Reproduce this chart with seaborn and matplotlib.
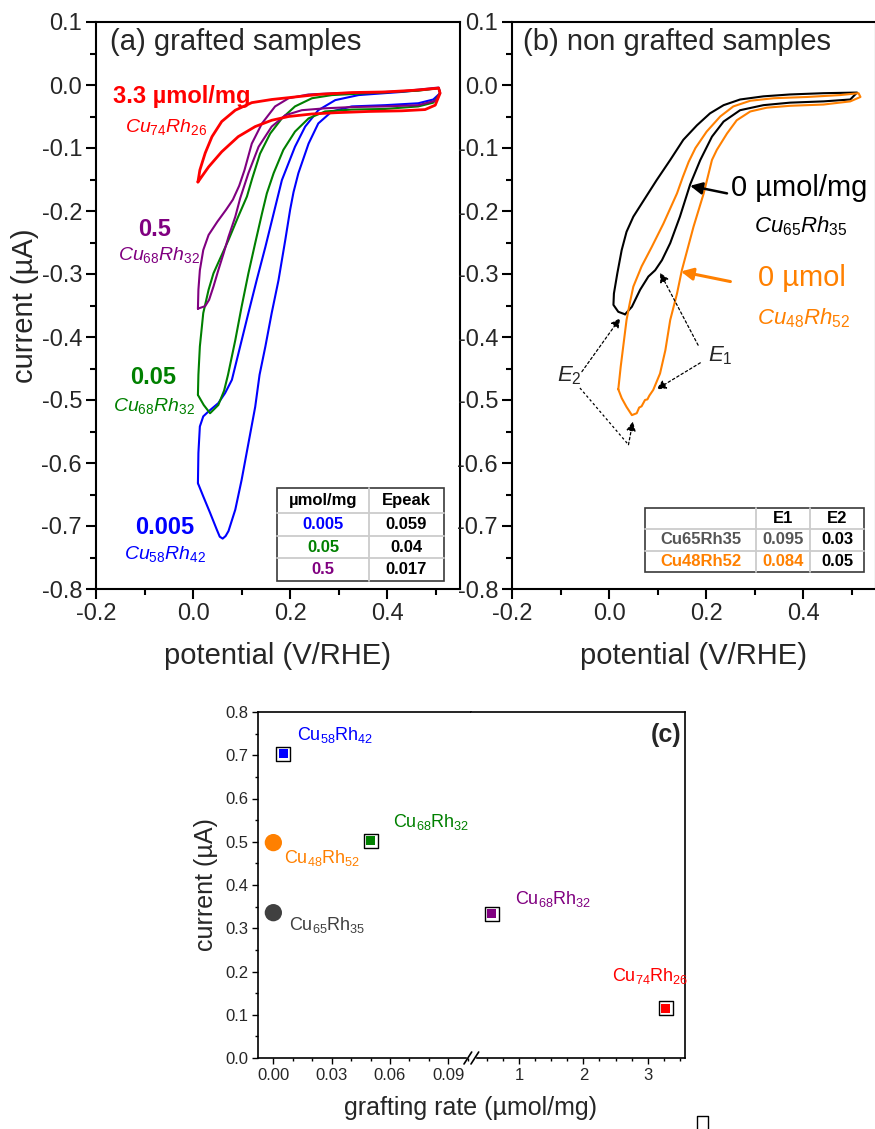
import matplotlib
matplotlib.use("Agg")
import matplotlib.pyplot as plt
import seaborn as sns
from matplotlib.ticker import MultipleLocator, FixedLocator, FormatStrFormatter
from matplotlib.lines import Line2D
from matplotlib.patches import Rectangle

# ---------------- data ----------------
# (a) grafted samples, cyclic voltammograms (closed loops)
a_red_x = [0.010, 0.014, 0.025, 0.039, 0.059, 0.087, 0.121, 0.162, 0.210, 0.258, 0.327, 0.396, 0.464, 0.506,
           0.509, 0.499, 0.478, 0.430, 0.362, 0.293, 0.245, 0.197, 0.162, 0.128, 0.093, 0.059, 0.032, 0.010]
a_red_y = [-0.154, -0.135, -0.108, -0.082, -0.058, -0.040, -0.028, -0.023, -0.019, -0.015, -0.012, -0.011, -0.008, -0.005,
           -0.013, -0.032, -0.039, -0.041, -0.042, -0.044, -0.046, -0.050, -0.056, -0.066, -0.082, -0.106, -0.130, -0.154]

a_purple_x = [0.010, 0.011, 0.014, 0.021, 0.032, 0.050, 0.068, 0.082, 0.095, 0.106, 0.121, 0.142, 0.169, 0.197,
              0.238, 0.293, 0.362, 0.430, 0.506, 0.509, 0.499, 0.464, 0.396, 0.327, 0.272, 0.224, 0.190, 0.162,
              0.135, 0.114, 0.097, 0.087, 0.073, 0.063, 0.052, 0.042, 0.033, 0.025, 0.010]
a_purple_y = [-0.355, -0.325, -0.294, -0.262, -0.238, -0.217, -0.198, -0.182, -0.160, -0.135, -0.093, -0.061, -0.034, -0.021,
              -0.015, -0.013, -0.012, -0.010, -0.004, -0.013, -0.025, -0.032, -0.034, -0.035, -0.037, -0.040, -0.048, -0.066,
              -0.098, -0.140, -0.180, -0.209, -0.241, -0.267, -0.294, -0.320, -0.341, -0.351, -0.355]

a_green_x = [0.010, 0.011, 0.014, 0.021, 0.032, 0.042, 0.056, 0.073, 0.093, 0.111, 0.122, 0.138, 0.159, 0.183,
             0.210, 0.245, 0.286, 0.362, 0.464, 0.506, 0.509, 0.495, 0.464, 0.396, 0.327, 0.272, 0.238, 0.210,
             0.186, 0.166, 0.152, 0.142, 0.128, 0.114, 0.100, 0.087, 0.072, 0.064, 0.052, 0.035, 0.022, 0.010]
a_green_y = [-0.492, -0.460, -0.415, -0.362, -0.325, -0.299, -0.275, -0.246, -0.209, -0.177, -0.148, -0.109, -0.077, -0.053,
             -0.034, -0.021, -0.016, -0.013, -0.009, -0.005, -0.013, -0.028, -0.034, -0.038, -0.039, -0.042, -0.053, -0.074,
             -0.103, -0.140, -0.172, -0.204, -0.251, -0.299, -0.352, -0.405, -0.460, -0.485, -0.508, -0.521, -0.508, -0.492]

a_blue_x = [0.010, 0.011, 0.014, 0.021, 0.032, 0.052, 0.066, 0.080, 0.097, 0.114, 0.131, 0.149, 0.166, 0.183,
            0.210, 0.231, 0.258, 0.293, 0.341, 0.430, 0.506, 0.509, 0.495, 0.464, 0.396, 0.327, 0.286, 0.258,
            0.238, 0.217, 0.207, 0.200, 0.190, 0.176, 0.162, 0.149, 0.137, 0.128, 0.114, 0.100, 0.087, 0.073,
            0.067, 0.061, 0.055, 0.049, 0.035, 0.021, 0.010]
a_blue_y = [-0.632, -0.584, -0.542, -0.526, -0.518, -0.505, -0.489, -0.468, -0.415, -0.362, -0.310, -0.257, -0.204, -0.151,
            -0.098, -0.066, -0.040, -0.024, -0.016, -0.011, -0.005, -0.013, -0.023, -0.029, -0.032, -0.034, -0.042, -0.061,
            -0.093, -0.140, -0.170, -0.198, -0.246, -0.310, -0.362, -0.415, -0.460, -0.511, -0.569, -0.627, -0.674, -0.708,
            -0.716, -0.720, -0.717, -0.706, -0.679, -0.653, -0.632]

# (b) non grafted samples
b_black_x = [0.033, 0.019, 0.009, 0.010, 0.017, 0.026, 0.036, 0.050, 0.074, 0.098, 0.126, 0.153, 0.181, 0.208,
             0.236, 0.270, 0.318, 0.373, 0.442, 0.511, 0.497, 0.442, 0.373, 0.318, 0.270, 0.236, 0.212, 0.188,
             0.167, 0.146, 0.126, 0.109, 0.095, 0.081, 0.064, 0.047, 0.033]
b_black_y = [-0.364, -0.360, -0.349, -0.331, -0.299, -0.262, -0.233, -0.209, -0.180, -0.151, -0.119, -0.087, -0.064, -0.045,
             -0.032, -0.023, -0.018, -0.015, -0.013, -0.012, -0.023, -0.026, -0.028, -0.032, -0.040, -0.058, -0.082, -0.119,
             -0.158, -0.209, -0.251, -0.278, -0.294, -0.304, -0.325, -0.352, -0.364]

b_orange_x = [0.019, 0.024, 0.030, 0.036, 0.043, 0.050, 0.067, 0.088, 0.112, 0.140, 0.152, 0.164, 0.178, 0.201,
              0.229, 0.256, 0.291, 0.339, 0.408, 0.476, 0.514, 0.518, 0.497, 0.442, 0.373, 0.325, 0.291, 0.263,
              0.243, 0.222, 0.212, 0.195, 0.174, 0.150, 0.140, 0.126, 0.116, 0.105, 0.091, 0.083, 0.079, 0.074,
              0.067, 0.062, 0.057, 0.047, 0.036, 0.026, 0.019]
b_orange_y = [-0.483, -0.447, -0.410, -0.373, -0.345, -0.320, -0.288, -0.257, -0.220, -0.172, -0.146, -0.122, -0.100, -0.074,
              -0.050, -0.034, -0.025, -0.021, -0.019, -0.016, -0.013, -0.019, -0.026, -0.031, -0.033, -0.036, -0.042, -0.056,
              -0.077, -0.103, -0.119, -0.172, -0.225, -0.294, -0.331, -0.373, -0.421, -0.458, -0.484, -0.493, -0.499, -0.500,
              -0.510, -0.512, -0.521, -0.524, -0.511, -0.497, -0.483]

# (c) peak current vs grafting rate
sq_names = ["Cu$_{58}$Rh$_{42}$", "Cu$_{68}$Rh$_{32}$", "Cu$_{68}$Rh$_{32}$", "Cu$_{74}$Rh$_{26}$"]
sq_rate = [0.005, 0.05, 0.575, 3.28]
sq_current = [0.704, 0.502, 0.334, 0.115]
sq_colors = ["#0000ff", "#008000", "#800080", "#ff0000"]
ci_names = ["Cu$_{48}$Rh$_{52}$", "Cu$_{65}$Rh$_{35}$"]
ci_rate = [0.0, 0.0]
ci_current = [0.498, 0.336]
ci_colors = ["#ff8000", "#404040"]

# tables
tab_a_cells = [["µmol/mg", "Epeak"], ["0.005", "0.059"], ["0.05", "0.04"], ["0.5", "0.017"]]
tab_a_colors = [["k", "k"], ["#0000ff", "k"], ["#008000", "k"], ["#800080", "k"]]
tab_b_cells = [["", "E1", "E2"], ["Cu65Rh35", "0.095", "0.03"], ["Cu48Rh52", "0.084", "0.05"]]
tab_b_colors = [["k", "k", "k"], ["#555555", "#555555", "k"], ["#ff8000", "#ff8000", "k"]]

# ---------------- style ----------------
sns.set_style("ticks")
plt.rcParams["font.family"] = ["Liberation Sans", "DejaVu Sans"]
plt.rcParams["mathtext.fontset"] = "custom"
plt.rcParams["mathtext.rm"] = "Liberation Sans"
plt.rcParams["mathtext.it"] = "Liberation Sans:italic"
plt.rcParams["mathtext.bf"] = "Liberation Sans:bold"
plt.rcParams["mathtext.default"] = "regular"
plt.rcParams["axes.unicode_minus"] = False

W, H = 875, 1129
fig = plt.figure(figsize=(W / 100, H / 100), dpi=100)


def fx(p):
    return p / W


def fy(p):
    return 1 - p / H


def box(l, t, r, b):
    return [l / W, 1 - b / H, (r - l) / W, (b - t) / H]


def loop(ax, xs, ys, color, lw=1.5):
    sns.lineplot(x=xs, y=ys, sort=False, estimator=None, color=color, lw=lw, ax=ax, legend=False)


def style_cv(ax):
    ax.set_xlim(-0.2, 0.55)
    ax.set_ylim(-0.8, 0.1)
    ax.xaxis.set_major_locator(MultipleLocator(0.2))
    ax.xaxis.set_minor_locator(MultipleLocator(0.1))
    ax.yaxis.set_major_locator(MultipleLocator(0.1))
    ax.yaxis.set_minor_locator(MultipleLocator(0.05))
    ax.xaxis.set_major_formatter(FormatStrFormatter("%.1f"))
    ax.yaxis.set_major_formatter(FormatStrFormatter("%.1f"))
    ax.tick_params(which="major", direction="out", length=7, width=1.5, labelsize=17, pad=3, color="black")
    ax.tick_params(which="minor", direction="out", length=4, width=1.5, color="black")
    for s in ax.spines.values():
        s.set_linewidth(1.5)
        s.set_color("black")
    ax.set_xlabel("potential (V/RHE)", fontsize=21, labelpad=12)
    ax.set_ylabel("")


def draw_table(cols, rows, cells, colors):
    l, r, t, b = cols[0], cols[-1], rows[0], rows[-1]
    for c in cols[1:-1]:
        fig.add_artist(Line2D([fx(c)] * 2, [fy(t), fy(b)], color="#cccccc", lw=1.3))
    for rr in rows[1:-1]:
        fig.add_artist(Line2D([fx(l), fx(r)], [fy(rr)] * 2, color="#cccccc", lw=1.3))
    fig.add_artist(Rectangle((fx(l), fy(b)), (r - l) / W, (b - t) / H, transform=fig.transFigure,
                             fill=False, ec="#3a3a3a", lw=1.2))
    for i in range(len(rows) - 1):
        for j in range(len(cols) - 1):
            fig.text(fx((cols[j] + cols[j + 1]) / 2), fy((rows[i] + rows[i + 1]) / 2), cells[i][j],
                     color=colors[i][j], ha="center", va="center", fontsize=12, fontweight="bold")


# ---------------- panel (a) ----------------
ax_a = fig.add_axes(box(96, 22, 460, 589))
loop(ax_a, a_blue_x, a_blue_y, "#0000ff")
loop(ax_a, a_green_x, a_green_y, "#008000")
loop(ax_a, a_purple_x, a_purple_y, "#800080")
loop(ax_a, a_red_x, a_red_y, "#ff0000", lw=2.0)
style_cv(ax_a)
ax_a.set_ylabel("current (µA)", fontsize=21, labelpad=2)
ax_a.text(-0.171, 0.0675, "(a) grafted samples", fontsize=21, ha="left", va="center")

ax_a.text(-0.023, -0.019, "3.3 µmol/mg", color="#ff0000", fontsize=17, fontweight="bold", ha="center", va="center")
ax_a.text(-0.056, -0.067, r"$\mathit{Cu}_{\mathit{74}}\mathit{Rh}_{\mathit{26}}$", color="#ff0000", fontsize=14, ha="center", va="center")
ax_a.text(-0.080, -0.230, "0.5", color="#800080", fontsize=17, fontweight="bold", ha="center", va="center")
ax_a.text(-0.070, -0.270, r"$\mathit{Cu}_{\mathit{68}}\mathit{Rh}_{\mathit{32}}$", color="#800080", fontsize=14, ha="center", va="center")
ax_a.text(-0.083, -0.465, "0.05", color="#008000", fontsize=17, fontweight="bold", ha="center", va="center")
ax_a.text(-0.080, -0.509, r"$\mathit{Cu}_{\mathit{68}}\mathit{Rh}_{\mathit{32}}$", color="#008000", fontsize=14, ha="center", va="center")
ax_a.text(-0.059, -0.702, "0.005", color="#0000ff", fontsize=17, fontweight="bold", ha="center", va="center")
ax_a.text(-0.057, -0.744, r"$\mathit{Cu}_{\mathit{58}}\mathit{Rh}_{\mathit{42}}$", color="#0000ff", fontsize=14, ha="center", va="center")

draw_table([277, 369, 444], [488, 513, 536, 558, 581], tab_a_cells, tab_a_colors)

# ---------------- panel (b) ----------------
ax_b = fig.add_axes(box(512, 22, 876, 589))
loop(ax_b, b_black_x, b_black_y, "black")
loop(ax_b, b_orange_x, b_orange_y, "#ff8000")
style_cv(ax_b)
ax_b.text(-0.178, 0.0675, "(b) non grafted samples", fontsize=21, ha="left", va="center")

ax_b.text(0.251, -0.163, "0 µmol/mg", color="black", fontsize=21, ha="left", va="center")
ax_b.text(0.394, -0.224, r"$\mathit{Cu}_{\mathit{65}}\mathit{Rh}_{\mathit{35}}$", color="black", fontsize=16, ha="center", va="center")
ax_b.text(0.307, -0.306, "0 µmol", color="#ff8000", fontsize=21, ha="left", va="center")
ax_b.text(0.400, -0.370, r"$\mathit{Cu}_{\mathit{48}}\mathit{Rh}_{\mathit{52}}$", color="#ff8000", fontsize=16, ha="center", va="center")

ax_b.annotate("", xy=(0.167, -0.160), xytext=(0.243, -0.172),
              arrowprops=dict(arrowstyle="-|>", color="black", lw=1.8, mutation_scale=18, shrinkA=0, shrinkB=0))
ax_b.annotate("", xy=(0.148, -0.296), xytext=(0.250, -0.312),
              arrowprops=dict(arrowstyle="-|>", color="#ff8000", lw=2.2, mutation_scale=18, shrinkA=0, shrinkB=0))

dot = dict(arrowstyle="-|>", color="black", lw=0.9, linestyle=(0, (2, 2)), mutation_scale=14, shrinkA=0, shrinkB=0)
ax_b.text(0.204, -0.430, r"$\mathit{E}_{\mathit{1}}$", fontsize=16, ha="left", va="center")
ax_b.annotate("", xy=(0.105, -0.298), xytext=(0.1835, -0.413), arrowprops=dot)
ax_b.annotate("", xy=(0.098, -0.483), xytext=(0.188, -0.441), arrowprops=dot)
ax_b.text(-0.081, -0.462, r"$\mathit{E}_{\mathit{2}}$", fontsize=16, ha="center", va="center")
ax_b.annotate("", xy=(0.023, -0.370), xytext=(-0.056, -0.455), arrowprops=dot)
ax_b.plot([-0.060, 0.040], [-0.481, -0.571], color="black", lw=0.9, linestyle=(0, (2, 2)))
ax_b.annotate("", xy=(0.049, -0.534), xytext=(0.040, -0.571), arrowprops=dot)

draw_table([645, 756, 810, 864], [508, 529, 551, 572], tab_b_cells, tab_b_colors)

# ---------------- panel (c) ----------------
axc1 = fig.add_axes(box(258, 712, 471, 1058))
axc2 = fig.add_axes(box(471, 712, 685, 1058))

for x, y, col in zip(ci_rate, ci_current, ci_colors):
    sns.scatterplot(x=[x], y=[y], marker="o", s=155, color=col, edgecolor="none", linewidth=0, ax=axc1, zorder=3)
for x, y, col in zip(sq_rate, sq_current, sq_colors):
    ax = axc1 if x < 0.1 else axc2
    sns.scatterplot(x=[x], y=[y], marker="s", s=92, color="white", edgecolor="black", linewidth=1.0, ax=ax, zorder=3)
    sns.scatterplot(x=[x], y=[y], marker="s", s=42, color=col, edgecolor="none", linewidth=0, ax=ax, zorder=4)

axc1.set_xlim(-0.0079, 0.1017)
axc2.set_xlim(0.2535, 3.58)
for ax in (axc1, axc2):
    ax.set_ylim(0, 0.8)
    ax.yaxis.set_major_locator(MultipleLocator(0.1))
    ax.yaxis.set_minor_locator(MultipleLocator(0.05))
    ax.yaxis.set_major_formatter(FormatStrFormatter("%.1f"))
    ax.tick_params(which="major", direction="out", length=4.5, width=1, labelsize=12, pad=2.5, color="black")
    ax.tick_params(which="minor", direction="out", length=2.5, width=1, color="black")
    for s in ax.spines.values():
        s.set_linewidth(1.2)
        s.set_color("black")
    ax.set_xlabel("")
    ax.set_ylabel("")

axc1.xaxis.set_major_locator(FixedLocator([0.0, 0.03, 0.06, 0.09]))
axc1.xaxis.set_minor_locator(MultipleLocator(0.01))
axc1.xaxis.set_major_formatter(FormatStrFormatter("%.2f"))
axc1.spines["right"].set_visible(False)
axc1.spines["bottom"].set_bounds(-0.0079, 0.0993)

axc2.xaxis.set_major_locator(MultipleLocator(1))
axc2.xaxis.set_minor_locator(MultipleLocator(0.25))
axc2.xaxis.set_major_formatter(FormatStrFormatter("%d"))
axc2.spines["left"].set_visible(False)
axc2.spines["bottom"].set_bounds(0.34, 3.58)
axc2.tick_params(axis="y", which="both", left=False, labelleft=False)

axc1.set_ylabel("current (µA)", fontsize=18, labelpad=5)
fig.text(fx(471), fy(1108), "grafting rate (µmol/mg)", fontsize=18, ha="center", va="center")
fig.text(fx(681), fy(735), "(c)", fontsize=18, fontweight="bold", ha="right", va="center")

# axis break marks
for x0 in (464, 471):
    fig.add_artist(Line2D([fx(x0), fx(x0 + 7.7)], [fy(1064), fy(1052)], color="black", lw=1.2))

axc1.text(0.0123, 0.747, sq_names[0], color=sq_colors[0], fontsize=13, ha="left", va="center")
axc1.text(0.0617, 0.546, sq_names[1], color=sq_colors[1], fontsize=13, ha="left", va="center")
axc1.text(0.0057, 0.462, ci_names[0], color=ci_colors[0], fontsize=13, ha="left", va="center")
axc1.text(0.0082, 0.308, ci_names[1], color=ci_colors[1], fontsize=13, ha="left", va="center")
axc2.text(0.938, 0.368, sq_names[2], color=sq_colors[2], fontsize=13, ha="left", va="center")
axc2.text(2.446, 0.190, sq_names[3], color=sq_colors[3], fontsize=13, ha="left", va="center")

# small stray frame in the lower right corner
fig.add_artist(Line2D([fx(697), fx(697), fx(708), fx(708)], [fy(1129), fy(1116), fy(1116), fy(1129)],
                      color="black", lw=1.0))

fig.savefig("out.png", dpi=100)
